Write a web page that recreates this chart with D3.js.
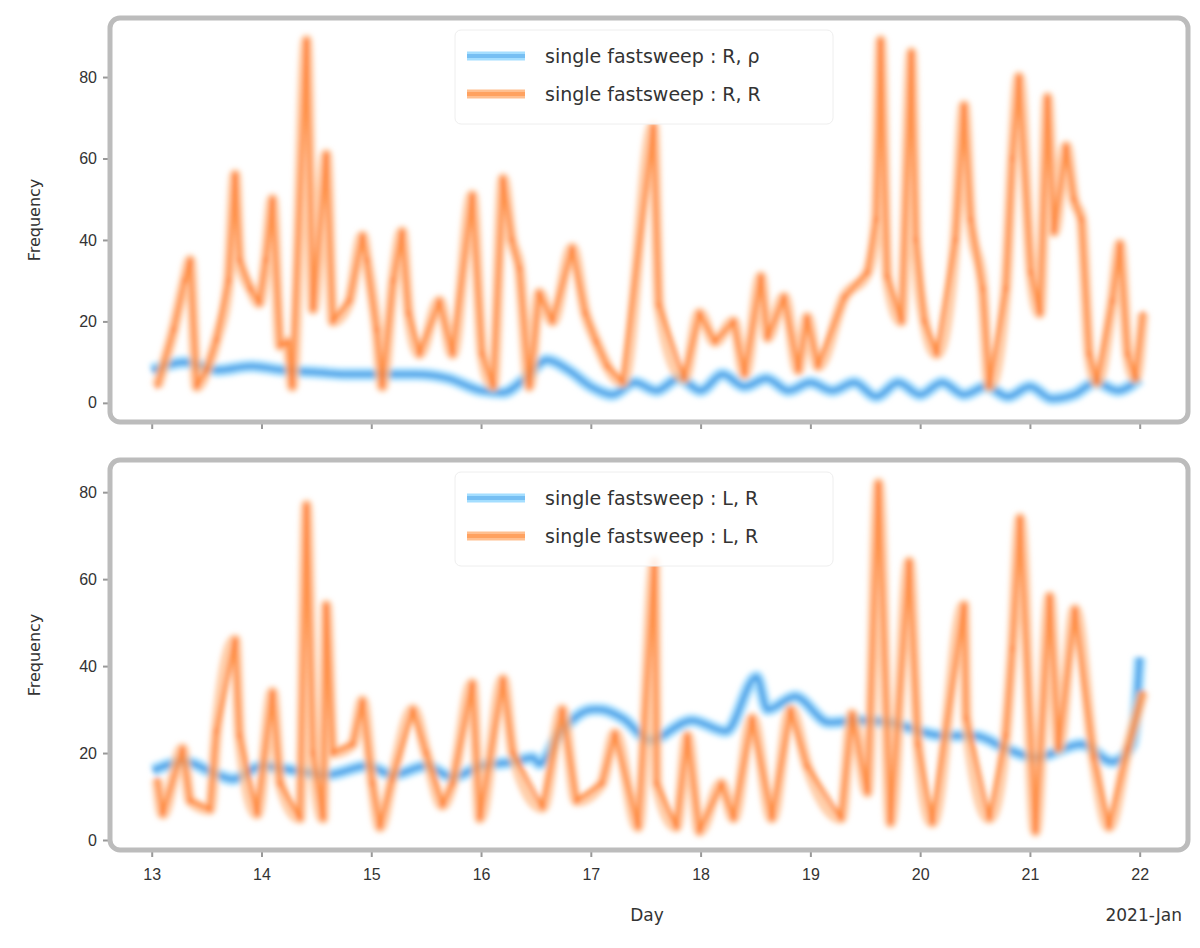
<!DOCTYPE html>
<html>
<head>
<meta charset="utf-8">
<script src="https://cdn.jsdelivr.net/npm/d3@7/dist/d3.min.js"></script>
<style>
    body { margin: 0; background: #fff; }
    svg { display: block; font-family: "DejaVu Sans", sans-serif; }
</style>
</head>
<body>
<svg id="chart" width="1200" height="948"></svg>
<script>

// x ticks are days of the month, y ticks shared by both panels
var dayTicks = [13, 14, 15, 16, 17, 18, 19, 20, 21, 22];
var yTicks = [0, 20, 40, 60, 80];

var legendTop = ['single fastsweep : R, ρ', 'single fastsweep : R, R'];
var legendBottom = ['single fastsweep : L, R', 'single fastsweep : L, R'];

// [day, value]
var topBlue = [
    [13.0, 8], [13.3, 10], [13.6, 8], [13.9, 9], [14.2, 8], [14.5, 7.5], [14.8, 7], [15.1, 7],
    [15.4, 7], [15.7, 6], [16.0, 3], [16.2, 2.5], [16.4, 6], [16.6, 10.5], [16.8, 8], [17.0, 4],
    [17.2, 2], [17.4, 5], [17.6, 3], [17.8, 6], [18.0, 3], [18.2, 7], [18.4, 4], [18.6, 6],
    [18.8, 3], [19.0, 5], [19.2, 3], [19.4, 5], [19.6, 1.5], [19.8, 5], [20.0, 2], [20.2, 5],
    [20.4, 2], [20.6, 4], [20.8, 1.5], [21.0, 4], [21.2, 1], [21.4, 2], [21.6, 5], [21.8, 3], [22.0, 6]
];

var topOrange = [
    [13.05, 4], [13.20, 18], [13.30, 30], [13.35, 35], [13.41, 4], [13.50, 8], [13.59, 15.5], [13.70, 30],
    [13.76, 56], [13.80, 35], [13.90, 28], [13.98, 24.5], [14.04, 35], [14.10, 50], [14.17, 14], [14.24, 15],
    [14.28, 4], [14.41, 89], [14.47, 23], [14.59, 61], [14.65, 20], [14.80, 25], [14.92, 41], [14.96, 35],
    [15.05, 18], [15.10, 4], [15.20, 30], [15.28, 42], [15.34, 22], [15.44, 12], [15.62, 25], [15.74, 12],
    [15.92, 51], [16.01, 12], [16.11, 4], [16.20, 55], [16.28, 40], [16.35, 33], [16.44, 4], [16.53, 27],
    [16.65, 20], [16.83, 38], [16.95, 22], [17.05, 15], [17.15, 9], [17.29, 5], [17.57, 68], [17.62, 24],
    [17.85, 6], [17.99, 22], [18.13, 15], [18.30, 20], [18.40, 7], [18.55, 31], [18.61, 16], [18.76, 26],
    [18.89, 8], [18.97, 21], [19.07, 9], [19.31, 26], [19.52, 32], [19.60, 45], [19.64, 89], [19.70, 31],
    [19.83, 20], [19.92, 86], [19.96, 40], [20.04, 20], [20.15, 12], [20.32, 40], [20.40, 73], [20.46, 45],
    [20.57, 28], [20.63, 4], [20.78, 28], [20.84, 60], [20.90, 80], [21.01, 32], [21.09, 22], [21.16, 75],
    [21.22, 42], [21.33, 63], [21.40, 50], [21.47, 45], [21.54, 12], [21.61, 5], [21.75, 25], [21.82, 39],
    [21.89, 12], [21.96, 6], [22.03, 22]
];

var bottomBlue = [
    [13.01, 16], [13.3, 18], [13.6, 15], [13.74, 14], [14.0, 17], [14.3, 16], [14.6, 15], [14.96, 17],
    [15.2, 15], [15.5, 17], [15.74, 14.5], [16.0, 17], [16.3, 18], [16.47, 19], [16.53, 17.5], [16.7, 24],
    [17.02, 30], [17.08, 30], [17.29, 28], [17.54, 23], [17.92, 27.5], [18.23, 25], [18.51, 37.5], [18.61, 30],
    [18.86, 33], [19.17, 27], [19.45, 27.5], [19.73, 27], [19.87, 26], [20.21, 24], [20.50, 24], [20.78, 21],
    [21.05, 19], [21.47, 22], [21.75, 18], [21.93, 22], [22.0, 42]
];

var bottomOrange = [
    [13.05, 14], [13.10, 6], [13.28, 21], [13.35, 9], [13.53, 7], [13.59, 25], [13.76, 46], [13.80, 24],
    [13.96, 6], [14.10, 34], [14.17, 13], [14.35, 5], [14.41, 77], [14.47, 20], [14.56, 5], [14.59, 54],
    [14.65, 20], [14.83, 22], [14.92, 32], [15.01, 13], [15.08, 3], [15.19, 14], [15.38, 30], [15.50, 20],
    [15.65, 8], [15.74, 13], [15.92, 36], [15.99, 5], [16.20, 37], [16.29, 20], [16.56, 7.5], [16.74, 30],
    [16.87, 9], [17.10, 13], [17.22, 24.5], [17.43, 3], [17.58, 64], [17.60, 13], [17.78, 3], [17.88, 24],
    [17.99, 2], [18.19, 13], [18.30, 5], [18.47, 28], [18.65, 5], [18.82, 30], [18.97, 17], [19.28, 5],
    [19.38, 29], [19.52, 11], [19.62, 82], [19.73, 4], [19.90, 64], [19.98, 22], [20.11, 4], [20.40, 54],
    [20.42, 28], [20.63, 5], [20.78, 24], [20.84, 44], [20.91, 74], [21.05, 2], [21.18, 56], [21.26, 21],
    [21.41, 53], [21.58, 19], [21.72, 3], [21.89, 21], [22.03, 34]
];

var blueColor = '#2388dc', blueHalo = '#a4deff';
var orangeColor = '#ff6d0a', orangeHalo = '#ffbf8f';

var svg = d3.select('#chart');

var defs = svg.append('defs');
defs.append('filter')
    .attr('id', 'soft')
    .attr('x', '-5%').attr('y', '-5%').attr('width', '110%').attr('height', '110%')
    .append('feGaussianBlur')
    .attr('stdDeviation', 2.8);

var x = d3.scaleLinear().domain([12.62, 22.44]).range([110, 1188]);

function drawPanel(p) {
    var y = d3.scaleLinear().domain(p.yDomain).range([p.bottom, p.top]);

    defs.append('clipPath')
        .attr('id', p.id + '-clip')
        .append('rect')
        .attr('x', x.range()[0])
        .attr('y', p.top)
        .attr('width', x.range()[1] - x.range()[0])
        .attr('height', p.bottom - p.top);

    var panel = svg.append('g').attr('class', p.id);

    // y axis, ticks only on the outside of the frame
    var yAxis = d3.axisLeft(y).tickValues(yTicks).tickSize(7).tickPadding(6);
    panel.append('g')
        .attr('transform', 'translate(' + x.range()[0] + ',0)')
        .call(yAxis)
        .call(function (g) {
            g.select('.domain').remove();
            g.selectAll('line').attr('stroke', '#999').attr('stroke-width', 2);
            g.selectAll('text').attr('fill', '#333').attr('font-size', 16);
        });

    var xAxis = d3.axisBottom(x).tickValues(dayTicks).tickSize(7).tickPadding(12);
    panel.append('g')
        .attr('transform', 'translate(0,' + p.bottom + ')')
        .call(xAxis)
        .call(function (g) {
            g.select('.domain').remove();
            g.selectAll('line').attr('stroke', '#999').attr('stroke-width', 2);
            g.selectAll('text')
                .attr('fill', '#333')
                .attr('font-size', 16)
                .style('display', p.xLabels ? null : 'none');
        });

    var line = d3.line()
        .x(function (d) { return x(d[0]); })
        .y(function (d) { return y(d[1]); })
        .curve(d3.curveMonotoneX);

    var plot = panel.append('g')
        .attr('clip-path', 'url(#' + p.id + '-clip)')
        .append('g')
        .attr('filter', 'url(#soft)');

    plot.append('path').datum(p.blue)
        .attr('d', line).attr('fill', 'none')
        .attr('stroke', blueHalo).attr('stroke-width', 13).attr('stroke-linejoin', 'round');
    plot.append('path').datum(p.blue)
        .attr('d', line).attr('fill', 'none')
        .attr('stroke', blueColor).attr('stroke-width', 5).attr('stroke-opacity', 0.75);

    plot.append('path').datum(p.orange)
        .attr('d', line).attr('fill', 'none')
        .attr('stroke', orangeHalo).attr('stroke-width', 12)
        .attr('stroke-opacity', 0.75).attr('stroke-linejoin', 'round');

    // segment by segment so overlapping strokes pile up a little darker
    var segs = d3.pairs(p.orange);
    plot.selectAll('.seg')
        .data(segs)
        .join('path')
        .attr('class', 'seg')
        .attr('d', function (d) { return line(d); })
        .attr('fill', 'none')
        .attr('stroke', orangeColor)
        .attr('stroke-width', 5)
        .attr('stroke-linecap', 'round')
        .attr('stroke-opacity', 0.6);

    // frame
    panel.append('rect')
        .attr('x', x.range()[0])
        .attr('y', p.top)
        .attr('width', x.range()[1] - x.range()[0])
        .attr('height', p.bottom - p.top)
        .attr('rx', 10)
        .attr('fill', 'none')
        .attr('stroke', '#bcbcbc')
        .attr('stroke-width', 5);

    // legend
    var leg = panel.append('g')
        .attr('transform', 'translate(455,' + (p.top + 12) + ')');
    leg.append('rect')
        .attr('width', 378).attr('height', 94).attr('rx', 6)
        .attr('fill', '#fff').attr('fill-opacity', 0.85)
        .attr('stroke', '#eee');
    leg.selectAll('.item')
        .data(p.legend)
        .join('g')
        .attr('class', 'item')
        .attr('transform', function (d, i) { return 'translate(0,' + (26 + i * 38) + ')'; })
        .each(function (d, i) {
            var g = d3.select(this);
            g.append('line')
                .attr('x1', 12).attr('x2', 70)
                .attr('stroke', i === 0 ? blueHalo : orangeHalo)
                .attr('stroke-width', 9);
            g.append('line')
                .attr('x1', 12).attr('x2', 70)
                .attr('stroke', i === 0 ? blueColor : orangeColor)
                .attr('stroke-opacity', 0.35)
                .attr('stroke-width', 4);
            g.append('text')
                .attr('x', 90).attr('dy', '0.35em')
                .attr('fill', '#333')
                .attr('font-size', 19)
                .text(d);
        });

    panel.append('text')
        .attr('transform', 'translate(40,' + ((p.top + p.bottom) / 2) + ') rotate(-90)')
        .attr('text-anchor', 'middle')
        .attr('fill', '#333')
        .attr('font-size', 16)
        .text('Frequency');
}

drawPanel({
    id: 'top', top: 18, bottom: 422, yDomain: [-4.7, 94.5],
    blue: topBlue, orange: topOrange, legend: legendTop, xLabels: false
});

drawPanel({
    id: 'bottom', top: 460, bottom: 850, yDomain: [-2.3, 87.4],
    blue: bottomBlue, orange: bottomOrange, legend: legendBottom, xLabels: true
});

svg.append('text')
    .attr('x', 647).attr('y', 921)
    .attr('text-anchor', 'middle')
    .attr('fill', '#333')
    .attr('font-size', 17)
    .text('Day');

svg.append('text')
    .attr('x', 1182).attr('y', 921)
    .attr('text-anchor', 'end')
    .attr('fill', '#333')
    .attr('font-size', 17)
    .text('2021-Jan');

</script>
</body>
</html>
